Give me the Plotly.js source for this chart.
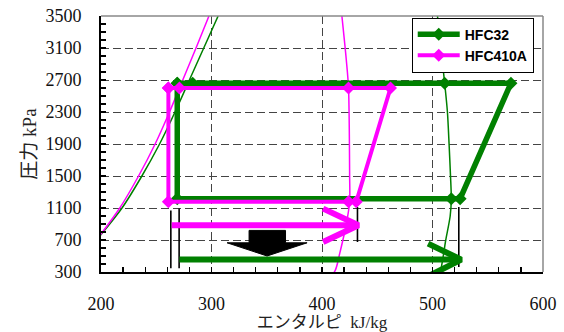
<!DOCTYPE html>
<html><head><meta charset="utf-8">
<script src="https://cdn.plot.ly/plotly-3.0.1.min.js"></script>
<style>html,body{margin:0;padding:0;background:#fff;}#chart{width:564px;height:332px;}</style>
</head><body><div id="chart"></div>
<script>
// Refrigeration cycles (enthalpy kJ/kg, pressure kPa)
const hfc32CycleH = [269, 269, 517, 525, 571, 511, 283, 269];
const hfc32CycleP = [2660, 1217, 1217, 1217, 2660, 2660, 2660, 2660];
const hfc410aCycleH = [261, 261, 424, 431, 462, 424, 271, 261];
const hfc410aCycleP = [2600, 1178, 1178, 1178, 2600, 2600, 2600, 2600];

// Saturation curves
const hfc32LiqH = [196, 219, 237, 253, 267, 280, 293, 306];
const hfc32LiqP = [700, 1100, 1500, 1900, 2300, 2700, 3100, 3500];
const hfc32VapH = [503, 507, 512, 516, 517, 516.3, 515, 513.5, 511, 504.5];
const hfc32VapP = [180, 300, 700, 1000, 1217, 1500, 1900, 2300, 2660, 3500];
const hfc410aLiqH = [196, 217, 234, 249, 262, 274, 286, 297.7];
const hfc410aLiqP = [700, 1100, 1500, 1900, 2300, 2700, 3100, 3500];
const hfc410aVapH = [405, 412, 416, 422, 425, 425, 424, 422, 418];
const hfc410aVapP = [195, 320, 530, 900, 1178, 1500, 2600, 2950, 3500];

// Enthalpy-difference arrows
const arrow410aH = [264, 433, null, 401, 433, 401];
const arrow410aP = [884, 884, null, 1092, 884, 675];
const arrow32H = [271, 526, null, 496, 526, 496];
const arrow32P = [455, 455, null, 655, 455, 246];

// Black guide lines
const guideH = [263.2, 263.2, null, 270.7, 270.7, null, 432.1, 432.1, null, 523.8, 523.8];
const guideP = [1070, 346, null, 1094, 346, null, 1112, 675, null, 1112, 362];

// Block arrow (pointing down)
const blockH = [334, 367, 367, 386.5, 350.3, 314.1, 334, 334];
const blockP = [820, 820, 665, 665, 500, 665, 665, 820];

const xTickVals = [200, 300, 400, 500, 600];
const yTickVals = [300, 700, 1100, 1500, 1900, 2300, 2700, 3100, 3500];

const GREEN = '#008000', PINK = '#FF00FF';

const traces = [
  {x: hfc32LiqH, y: hfc32LiqP, mode: 'lines', line: {color: GREEN, width: 1.5, shape: 'spline', smoothing: 0.8}, showlegend: false, hoverinfo: 'skip'},
  {x: hfc32VapH, y: hfc32VapP, mode: 'lines', line: {color: GREEN, width: 1.5, shape: 'spline', smoothing: 0.8}, showlegend: false, hoverinfo: 'skip'},
  {x: hfc410aLiqH, y: hfc410aLiqP, mode: 'lines', line: {color: PINK, width: 1.5, shape: 'spline', smoothing: 0.8}, showlegend: false, hoverinfo: 'skip'},
  {x: hfc410aVapH, y: hfc410aVapP, mode: 'lines', line: {color: PINK, width: 1.5, shape: 'spline', smoothing: 0.8}, showlegend: false, hoverinfo: 'skip'},
  {x: guideH, y: guideP, mode: 'lines', line: {color: '#000', width: 1.6}, showlegend: false, hoverinfo: 'skip'},
  {x: hfc32CycleH, y: hfc32CycleP, name: 'HFC32', mode: 'lines+markers',
   line: {color: GREEN, width: 5.5}, marker: {symbol: 'diamond', size: 10, color: GREEN}, legendrank: 1},
  {x: hfc410aCycleH, y: hfc410aCycleP, name: 'HFC410A', mode: 'lines+markers',
   line: {color: PINK, width: 4}, marker: {symbol: 'diamond', size: 10, color: PINK}, legendrank: 2},
  {x: arrow410aH, y: arrow410aP, mode: 'lines', line: {color: PINK, width: 6}, showlegend: false, hoverinfo: 'skip'},
  {x: arrow32H, y: arrow32P, mode: 'lines', line: {color: GREEN, width: 6}, showlegend: false, hoverinfo: 'skip'},
  {x: blockH, y: blockP, mode: 'lines', fill: 'toself', fillcolor: '#000', line: {color: '#000', width: 1}, showlegend: false, hoverinfo: 'skip'}
];

const tickFont = {family: 'Liberation Serif, serif', size: 18, color: '#111'};
const layout = {
  width: 564, height: 332,
  margin: {l: 101, r: 21, t: 16, b: 60},
  paper_bgcolor: '#fff', plot_bgcolor: '#fff',
  showlegend: true,
  legend: {x: 0.703, y: 0.994, xanchor: 'left', yanchor: 'top', bgcolor: '#fff', bordercolor: '#000', borderwidth: 1,
           font: {family: 'Liberation Sans, Arial, sans-serif', size: 14, color: '#000', weight: 'bold'},
           itemwidth: 42, traceorder: 'normal'},
  xaxis: {range: [200, 600], tickvals: xTickVals, ticktext: xTickVals.map(String),
          ticks: 'inside', ticklen: 5, tickwidth: 1.3, tickcolor: '#000',
          minor: {dtick: 20, tick0: 200, ticks: 'inside', ticklen: 5, tickwidth: 1.3, tickcolor: '#000', showgrid: false},
          showgrid: true, gridcolor: '#444', gridwidth: 1, griddash: '8px,4px',
          showline: true, linecolor: '#000', linewidth: 2, zeroline: false,
          tickfont: tickFont, ticklabelstandoff: 14,
          title: {text: 'エンタルピ  kJ/kg', font: {family: 'Liberation Serif, Noto Sans CJK JP, serif', size: 17, color: '#222'}, standoff: 7}},
  yaxis: {range: [300, 3500], tickvals: yTickVals, ticktext: yTickVals.map(String),
          ticks: 'inside', ticklen: 5, tickwidth: 1.3, tickcolor: '#000',
          minor: {dtick: 100, tick0: 300, ticks: 'inside', ticklen: 5, tickwidth: 1.3, tickcolor: '#000', showgrid: false},
          showgrid: true, gridcolor: '#444', gridwidth: 1, griddash: '8px,4px',
          showline: true, linecolor: '#000', linewidth: 2, zeroline: false,
          tickfont: tickFont, ticklabelstandoff: 14,
          title: {text: '圧力 kPa', font: {family: 'Liberation Serif, Noto Sans CJK JP, serif', size: 19, color: '#222'}, standoff: 4}},
  shapes: [
    {type: 'line', xref: 'paper', yref: 'paper', x0: 0, x1: 1, y0: 1, y1: 1, line: {color: '#888', width: 1.5}},
    {type: 'line', xref: 'paper', yref: 'paper', x0: 1, x1: 1, y0: 0, y1: 1, line: {color: '#888', width: 1.5}}
  ]
};
Plotly.newPlot('chart', traces, layout, {staticPlot: true});
</script></body></html>
